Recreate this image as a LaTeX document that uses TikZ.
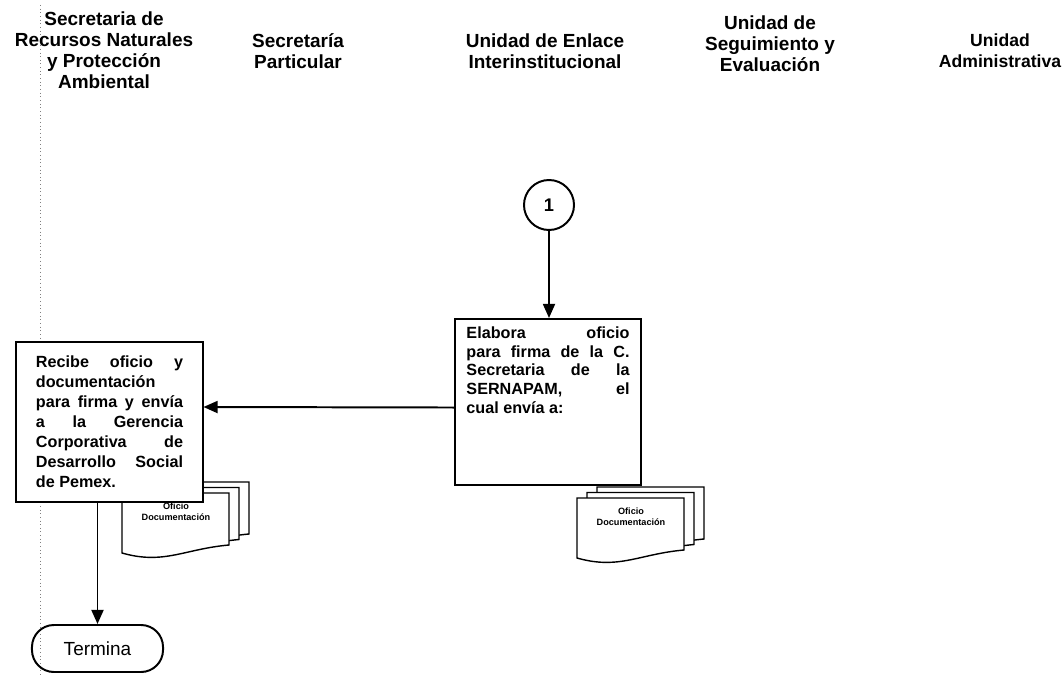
\documentclass[tikz,border=0pt]{standalone}
\usepackage{fontspec}
\setmainfont{Liberation Sans}
\usetikzlibrary{arrows.meta}

\begin{document}
\begin{tikzpicture}[x=0.025cm,y=-0.025cm,
  lanehead/.style={font=\fontsize{13.5}{15}\selectfont\bfseries,align=center},
  taskbox/.style={draw,line width=1.4pt,fill=white,minimum width=4.65cm,inner xsep=0.29cm,align=justify},
  flow/.style={line width=1.4pt,-{Triangle[length=10pt,width=8.5pt]}},
  sheet/.pic={\draw[line width=1pt,fill=white] (0,0) -- (107,0) -- (107,52) .. controls (62,56) and (42,72) .. (0,60) -- cycle;},
  multidoc/.pic={\pic at (20,-11) {sheet}; \pic at (10,-5.5) {sheet}; \pic at (0,0) {sheet};
    \node[font=\fontsize{6.5}{7.5}\selectfont\bfseries,align=center] (-txt) at (54,19) {Oficio\\Documentación};}]

 \useasboundingbox (0,0) rectangle (1062,675);
 \draw[gray,dotted,line width=0.6pt] (40,5) -- (40,675);

 % lanes
 \node[lanehead] (srnpa) at (104,50) {Secretaria de\\Recursos Naturales\\y Protección\\Ambiental};
 \node[lanehead] (sp) at (298,51) {Secretaría\\Particular};
 \node[lanehead] (uei) at (545,51) {Unidad de Enlace\\Interinstitucional};
 \node[lanehead] (use) at (770,44) {Unidad de\\Seguimiento y\\Evaluación};
 \node[lanehead,font=\fontsize{12.5}{15}\selectfont\bfseries] (ua) at (1000,51) {Unidad\\Administrativa};

 \pic (docA) at (122,493) {multidoc};
 \pic (docB) at (577,498) {multidoc};

 \node[draw,circle,line width=1.4pt,minimum size=1.25cm,inner sep=0pt,font=\fontsize{13}{15}\selectfont\bfseries] (uno) at (549,205) {1};
 \node[taskbox,anchor=north,text width=4.075cm,inner ysep=5.8pt,font=\fontsize{11.5}{13.2}\selectfont\bfseries] (elabora) at (548,318)
   {Elabora oficio\linebreak para firma de la C.\linebreak Secretaria de la\linebreak SERNAPAM, el\linebreak cual envía a:\par\rule{0pt}{1.55cm}};
 \node[taskbox,minimum height=4cm,text width=3.675cm,font=\fontsize{11.5}{14.2}\selectfont\bfseries] (recibe) at (109.5,422)
   {Recibe oficio y\linebreak documentación\linebreak para firma y envía\linebreak a la Gerencia\linebreak Corporativa de\linebreak Desarrollo Social\linebreak de Pemex.};
 \node[draw,line width=1.4pt,rounded corners=0.55cm,minimum width=3.275cm,minimum height=1.175cm,font=\fontsize{13.5}{15}\selectfont] (termina) at (97.5,648.5) {Termina};

 \draw[flow] (uno) -- (uno |- elabora.north);
 \draw[flow] ([yshift=-0.14cm]elabora.west) -- ([yshift=0.375cm]recibe.east);
 \draw[flow] (recibe.south -| termina) -- (termina);
\end{tikzpicture}
\end{document}
